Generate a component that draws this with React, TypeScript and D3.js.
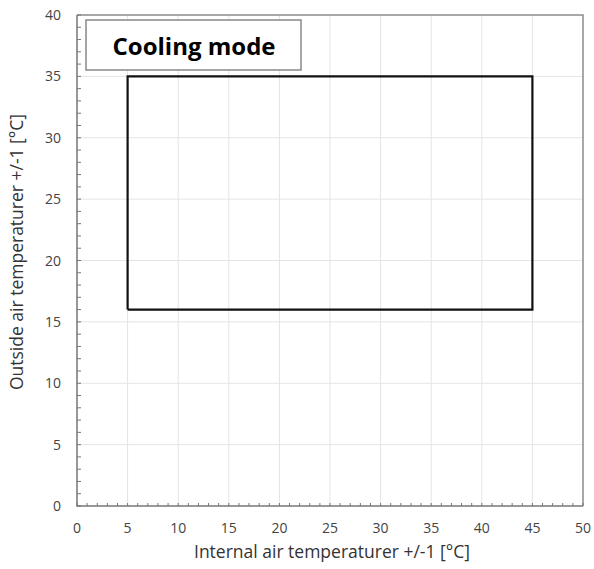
import React, { useEffect, useRef } from 'react';
import * as d3 from 'd3';

// envelope of the cooling mode
const envelopeX = [5, 45, 45, 5, 5];
const envelopeY = [16, 16, 35, 35, 16];
const xTicks = [0, 5, 10, 15, 20, 25, 30, 35, 40, 45, 50];
const yTicks = [0, 5, 10, 15, 20, 25, 30, 35, 40];
const legendLabel = 'Cooling mode';
const xLabel = 'Internal air temperaturer +/-1 [°C]';
const yLabel = 'Outside air temperaturer +/-1 [°C]';

const App = () => {
  const svgRef = useRef<SVGSVGElement>(null);

  useEffect(() => {
    const width = 594;
    const height = 569;
    const marginLeft = 77;
    const marginRight = 11;
    const marginTop = 15;
    const marginBottom = 63;

    const x = d3.scaleLinear().domain([0, 50]).range([marginLeft, width - marginRight]);
    const y = d3.scaleLinear().domain([0, 40]).range([height - marginBottom, marginTop]);

    const svg = d3.select(svgRef.current)
      .attr('width', width)
      .attr('height', height)
      .attr('viewBox', [0, 0, width, height].join(' '))
      .style('font-family', 'Open Sans, sans-serif');
    svg.selectAll('*').remove();

    svg.append('rect').attr('width', width).attr('height', height).attr('fill', '#fff');

    // grid lines
    svg.append('g')
      .selectAll('line')
      .data(xTicks.slice(1, -1))
      .join('line')
      .attr('x1', d => x(d)).attr('x2', d => x(d))
      .attr('y1', y(40)).attr('y2', y(0))
      .attr('stroke', '#e4e4e4');
    svg.append('g')
      .selectAll('line')
      .data(yTicks.slice(1, -1))
      .join('line')
      .attr('x1', x(0)).attr('x2', x(50))
      .attr('y1', d => y(d)).attr('y2', d => y(d))
      .attr('stroke', '#e4e4e4');

    // frame top/right
    svg.append('path')
      .attr('d', `M${x(0)},${y(40)}H${x(50)}V${y(0)}`)
      .attr('fill', 'none')
      .attr('stroke', '#8c8c8c')
      .attr('stroke-width', 1.5);

    // minor ticks (inside)
    svg.append('g')
      .selectAll('line')
      .data(d3.range(0, 51))
      .join('line')
      .attr('x1', d => x(d)).attr('x2', d => x(d))
      .attr('y1', y(0)).attr('y2', y(0) - 3)
      .attr('stroke', '#777');
    svg.append('g')
      .selectAll('line')
      .data(d3.range(0, 41))
      .join('line')
      .attr('x1', x(0)).attr('x2', x(0) + 4)
      .attr('y1', d => y(d)).attr('y2', d => y(d))
      .attr('stroke', '#777');

    // axes lines
    svg.append('path')
      .attr('d', `M${x(0)},${y(40)}V${y(0)}H${x(50)}`)
      .attr('fill', 'none')
      .attr('stroke', '#777')
      .attr('stroke-width', 1.5);

    // tick labels
    svg.append('g')
      .selectAll('text')
      .data(xTicks)
      .join('text')
      .attr('x', d => x(d))
      .attr('y', y(0) + 27)
      .attr('text-anchor', 'middle')
      .attr('fill', '#444')
      .style('font-size', '14px')
      .text(d => d);
    svg.append('g')
      .selectAll('text')
      .data(yTicks)
      .join('text')
      .attr('x', x(0) - 16)
      .attr('y', d => y(d) + 5)
      .attr('text-anchor', 'end')
      .attr('fill', '#444')
      .style('font-size', '14px')
      .text(d => d);

    // axis titles
    svg.append('text')
      .attr('x', 332)
      .attr('y', height - 11)
      .attr('text-anchor', 'middle')
      .attr('fill', '#333')
      .style('font-size', '17.5px')
      .text(xLabel);
    svg.append('text')
      .attr('transform', `translate(23,252) rotate(-90)`)
      .attr('text-anchor', 'middle')
      .attr('fill', '#333')
      .style('font-size', '17.5px')
      .text(yLabel);

    // envelope
    const line = d3.line<number>()
      .x(d => x(envelopeX[d]))
      .y(d => y(envelopeY[d]));
    svg.append('path')
      .attr('d', line(d3.range(envelopeX.length)))
      .attr('fill', 'none')
      .attr('stroke', '#111')
      .attr('stroke-width', 2.2);

    // legend box
    svg.append('rect')
      .attr('x', 86).attr('y', 20)
      .attr('width', 215).attr('height', 50)
      .attr('fill', '#fff')
      .attr('stroke', '#888')
      .attr('stroke-width', 1.5);
    svg.append('text')
      .attr('x', 194).attr('y', 55)
      .attr('text-anchor', 'middle')
      .attr('fill', '#000')
      .style('font-size', '24px')
      .style('font-weight', 'bold')
      .text(legendLabel);
  }, []);

  return <svg ref={svgRef} style={{ display: 'block', position: 'absolute', left: 0, top: 0 }} />;
};

export default App;
